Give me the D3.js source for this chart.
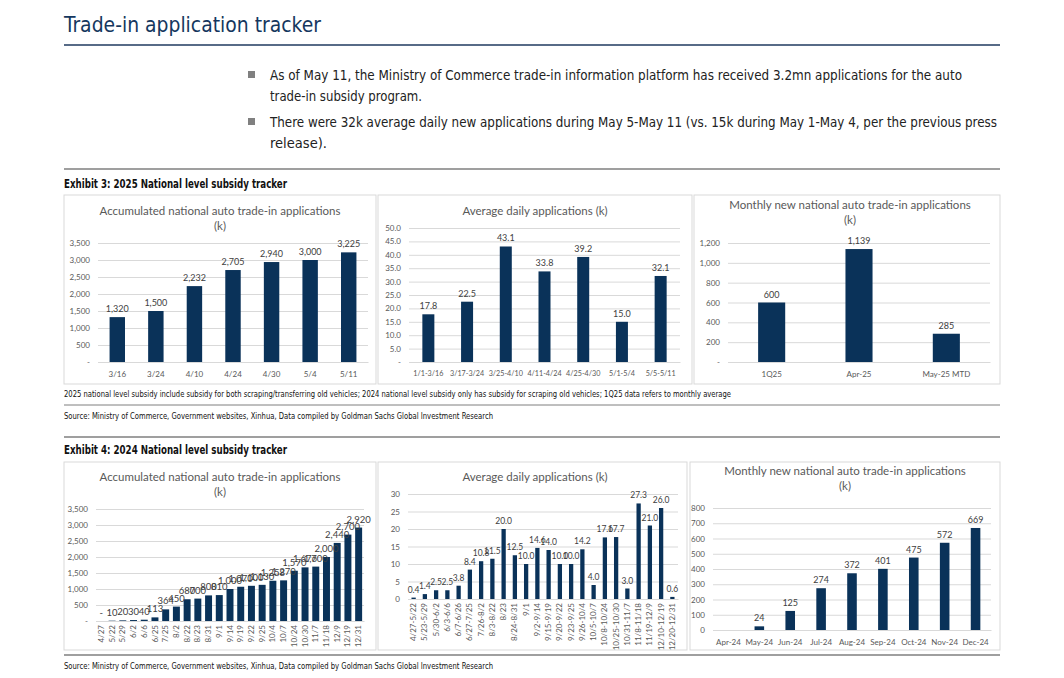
<!DOCTYPE html>
<html>
<head>
<meta charset="utf-8">
<script src="https://cdn.jsdelivr.net/npm/d3@7"></script>
<style>
  body { margin: 0; background: #fff; }
</style>
</head>
<body>
<svg id="page" width="1064" height="678"></svg>
<script>
// ---- data ----
// Exhibit 3 (2025)
var e3AccCats = ["3/16", "3/24", "4/10", "4/24", "4/30", "5/4", "5/11"];
var e3AccVals = [1320, 1500, 2232, 2705, 2940, 3000, 3225];

var e3DailyCats = ["1/1-3/16", "3/17-3/24", "3/25-4/10", "4/11-4/24", "4/25-4/30", "5/1-5/4", "5/5-5/11"];
var e3DailyVals = [17.8, 22.5, 43.1, 33.8, 39.2, 15.0, 32.1];

var e3MonthCats = ["1Q25", "Apr-25", "May-25 MTD"];
var e3MonthVals = [600, 1139, 285];

// Exhibit 4 (2024)
var e4AccCats = ["4/27", "5/22", "5/29", "6/2", "6/6", "6/25", "7/25", "8/2", "8/22", "8/23", "8/31", "9/1",
  "9/14", "9/19", "9/22", "9/25", "10/4", "10/7", "10/24", "10/30", "11/7", "11/18", "12/9", "12/19", "12/31"];
var e4AccVals = [0, 10, 20, 30, 40, 113, 364, 450, 680, 700, 800, 810,
  1000, 1070, 1100, 1130, 1258, 1270, 1570, 1676, 1700, 2000, 2440, 2700, 2920];

var e4DailyCats = ["4/27-5/22", "5/23-5/29", "5/30-6/2", "6/3-6/6", "6/7-6/26", "6/27-7/25", "7/26-8/2", "8/3-8/22",
  "8/23", "8/24-8/31", "9/1", "9/2-9/14", "9/15-9/19", "9/20-9/22", "9/23-9/25", "9/26-10/4", "10/5-10/7",
  "10/8-10/24", "10/25-10/30", "10/31-11/7", "11/8-11/18", "11/19-12/9", "12/10-12/19", "12/20-12/31"];
var e4DailyVals = [0.4, 1.4, 2.5, 2.5, 3.8, 8.4, 10.8, 11.5, 20.0, 12.5, 10.0, 14.6, 14.0, 10.0, 10.0, 14.2, 4.0,
  17.6, 17.7, 3.0, 27.3, 21.0, 26.0, 0.6];

var e4MonthCats = ["Apr-24", "May-24", "Jun-24", "Jul-24", "Aug-24", "Sep-24", "Oct-24", "Nov-24", "Dec-24"];
var e4MonthVals = [0, 24, 125, 274, 372, 401, 475, 572, 669];

// ---- page text ----
var pageTitle = "Trade-in application tracker";
var bullets = [
  ["As of May 11, the Ministry of Commerce trade-in information platform has received 3.2mn applications for the auto",
   "trade-in subsidy program."],
  ["There were 32k average daily new applications during May 5-May 11 (vs. 15k during May 1-May 4, per the previous press",
   "release)."]
];
var e3Heading = "Exhibit 3: 2025 National level subsidy tracker";
var e3Note = "2025 national level subsidy include subsidy for both scraping/transferring old vehicles; 2024 national level subsidy only has subsidy for scraping old vehicles; 1Q25 data refers to monthly average";
var sourceText = "Source: Ministry of Commerce, Government websites, Xinhua, Data compiled by Goldman Sachs Global Investment Research";
var e4Heading = "Exhibit 4: 2024 National level subsidy tracker";

var svg = d3.select("#page");
var bodyFont = "'DejaVu Sans Condensed', 'DejaVu Sans', sans-serif";
var chartFont = "Lato, 'Open Sans', sans-serif";
var navy = "#0a3259";

var comma = d3.format(",");
var dash = function(f) { return function(d) { return d === 0 ? "-" : f(d); }; };

// condensed body text squeezed to the width it takes in the report
function bodyText(t, x, y, size, w, opts) {
  opts = opts || {};
  svg.append("text")
      .attr("x", x).attr("y", y)
      .attr("font-family", bodyFont).attr("font-size", size)
      .attr("font-stretch", "condensed")
      .attr("font-weight", opts.bold ? "bold" : "normal")
      .attr("fill", opts.fill || "#111")
      .attr("textLength", w)
      .attr("lengthAdjust", "spacingAndGlyphs")
      .text(t);
}

// title + rule
bodyText(pageTitle, 64, 32, 22, 257, {fill: "#15375e"});
svg.append("line").attr("x1", 64).attr("x2", 1000).attr("y1", 45).attr("y2", 45)
    .attr("stroke", "#1f3a5f").attr("stroke-width", 1.5);

// bullets
var bulletY = [80, 127];
var bulletW = [[692, 152], [727, 57]];
bullets.forEach(function(lines, i) {
  svg.append("rect")
      .attr("x", 248).attr("y", bulletY[i] - 9)
      .attr("width", 7).attr("height", 7)
      .attr("fill", "#808080");
  lines.forEach(function(t, j) {
    bodyText(t, 270, bulletY[i] + j * 21, 14, bulletW[i][j], {fill: "#222"});
  });
});

function rule(y, w) {
  svg.append("line").attr("x1", 64).attr("x2", 1000).attr("y1", y).attr("y2", y)
      .attr("stroke", "#7f7f7f").attr("stroke-width", w);
}

rule(169, 1.5);
bodyText(e3Heading, 64, 188, 12, 223, {bold: true});
bodyText(e3Note, 64, 397, 9, 667);
rule(405, 1);
bodyText(sourceText, 64, 419, 8.5, 429);
rule(437, 1.5);
bodyText(e4Heading, 64, 454, 12, 223, {bold: true});
rule(655, 1.5);
bodyText(sourceText, 64, 669, 8.5, 429);

// ---- one bar chart panel ----
function barChart(o) {
  svg.append("rect")
      .attr("x", o.panel[0]).attr("y", o.panel[1])
      .attr("width", o.panel[2] - o.panel[0]).attr("height", o.panel[3] - o.panel[1])
      .attr("fill", "#fff").attr("stroke", "#d9d9d9");

  o.title.forEach(function(t, i) {
    svg.append("text")
        .attr("x", o.titleX).attr("y", o.titleY + i * 15)
        .attr("text-anchor", "middle")
        .attr("font-family", chartFont).attr("font-size", 11.5)
        .attr("fill", "#595959")
        .text(t);
  });

  var x = d3.scaleBand()
      .domain(o.cats)
      .range([o.left, o.right])
      .paddingInner(o.pad).paddingOuter(o.pad / 2);
  var y = d3.scaleLinear()
      .domain([0, o.yMax])
      .range([o.bottom, o.top]);

  var ticks = d3.range(0, o.yMax + o.yStep / 2, o.yStep);

  var ya = svg.append("g")
      .attr("transform", "translate(" + o.left + ",0)")
      .call(d3.axisLeft(y).tickValues(ticks).tickFormat(o.tickFmt)
            .tickSize(-(o.right - o.left)).tickPadding(8));
  ya.select(".domain").remove();
  ya.selectAll("line").attr("stroke", "#d9d9d9");
  ya.selectAll("text")
      .attr("font-family", chartFont).attr("font-size", 8)
      .attr("fill", "#595959");

  var xa = svg.append("g")
      .attr("transform", "translate(0," + o.bottom + ")")
      .call(d3.axisBottom(x).tickSize(0).tickPadding(o.rotate ? 4 : 9));
  xa.select(".domain").attr("stroke", "#d9d9d9");
  xa.selectAll("text")
      .attr("font-family", chartFont).attr("font-size", o.catSize || 8)
      .attr("fill", "#595959");
  if (o.rotate) {
    xa.selectAll("text")
        .attr("text-anchor", "end")
        .attr("transform", "rotate(-90)")
        .attr("x", -4).attr("y", 0).attr("dy", "0.32em");
  }

  var data = o.cats.map(function(c, i) { return {cat: c, val: o.vals[i]}; });

  svg.append("g").selectAll("rect")
      .data(data)
      .enter().append("rect")
      .attr("x", function(d) { return x(d.cat); })
      .attr("y", function(d) { return y(d.val); })
      .attr("width", x.bandwidth())
      .attr("height", function(d) { return o.bottom - y(d.val); })
      .attr("fill", navy);

  svg.append("g").selectAll("text")
      .data(data)
      .enter().append("text")
      .attr("x", function(d) { return x(d.cat) + x.bandwidth() / 2; })
      .attr("y", function(d) { return y(d.val) - 5; })
      .attr("text-anchor", "middle")
      .attr("font-family", chartFont).attr("font-size", o.labelSize)
      .attr("fill", "#404040")
      .text(function(d) { return o.labelFmt(d.val); });
}

// Exhibit 3
barChart({
  panel: [64, 195, 376, 384], left: 98, right: 368, top: 243, bottom: 362,
  title: ["Accumulated national auto trade-in applications", "(k)"], titleX: 220, titleY: 215,
  cats: e3AccCats, vals: e3AccVals, yMax: 3500, yStep: 500,
  tickFmt: dash(comma), labelFmt: comma, pad: 0.6, labelSize: 9
});
barChart({
  panel: [378, 195, 692, 384], left: 409, right: 680, top: 228, bottom: 362,
  title: ["Average daily applications (k)"], titleX: 535, titleY: 215,
  cats: e3DailyCats, vals: e3DailyVals, yMax: 50, yStep: 5,
  tickFmt: dash(d3.format(".1f")), labelFmt: d3.format(".1f"), pad: 0.69, labelSize: 9, catSize: 7.2
});
barChart({
  panel: [694, 195, 1000, 384], left: 728, right: 990, top: 243, bottom: 362,
  title: ["Monthly new national auto trade-in applications", "(k)"], titleX: 850, titleY: 209,
  cats: e3MonthCats, vals: e3MonthVals, yMax: 1200, yStep: 200,
  tickFmt: dash(comma), labelFmt: comma, pad: 0.69, labelSize: 9
});

// Exhibit 4
barChart({
  panel: [64, 462, 376, 650], left: 96, right: 364, top: 509, bottom: 621,
  title: ["Accumulated national auto trade-in applications", "(k)"], titleX: 220, titleY: 481,
  cats: e4AccCats, vals: e4AccVals, yMax: 3500, yStep: 500,
  tickFmt: dash(comma), labelFmt: dash(comma), pad: 0.35, labelSize: 9.5, rotate: true
});
barChart({
  panel: [378, 462, 687, 650], left: 408, right: 678, top: 494, bottom: 599,
  title: ["Average daily applications (k)"], titleX: 535, titleY: 481,
  cats: e4DailyCats, vals: e4DailyVals, yMax: 30, yStep: 5,
  tickFmt: d3.format("d"), labelFmt: d3.format(".1f"), pad: 0.62, labelSize: 8.5, rotate: true
});
barChart({
  panel: [690, 462, 1000, 650], left: 713, right: 991, top: 508, bottom: 630,
  title: ["Monthly new national auto trade-in applications", "(k)"], titleX: 845, titleY: 475,
  cats: e4MonthCats, vals: e4MonthVals, yMax: 800, yStep: 100,
  tickFmt: d3.format("d"), labelFmt: function(d) { return d === 0 ? "" : comma(d); }, pad: 0.69, labelSize: 9
});
</script>
</body>
</html>
